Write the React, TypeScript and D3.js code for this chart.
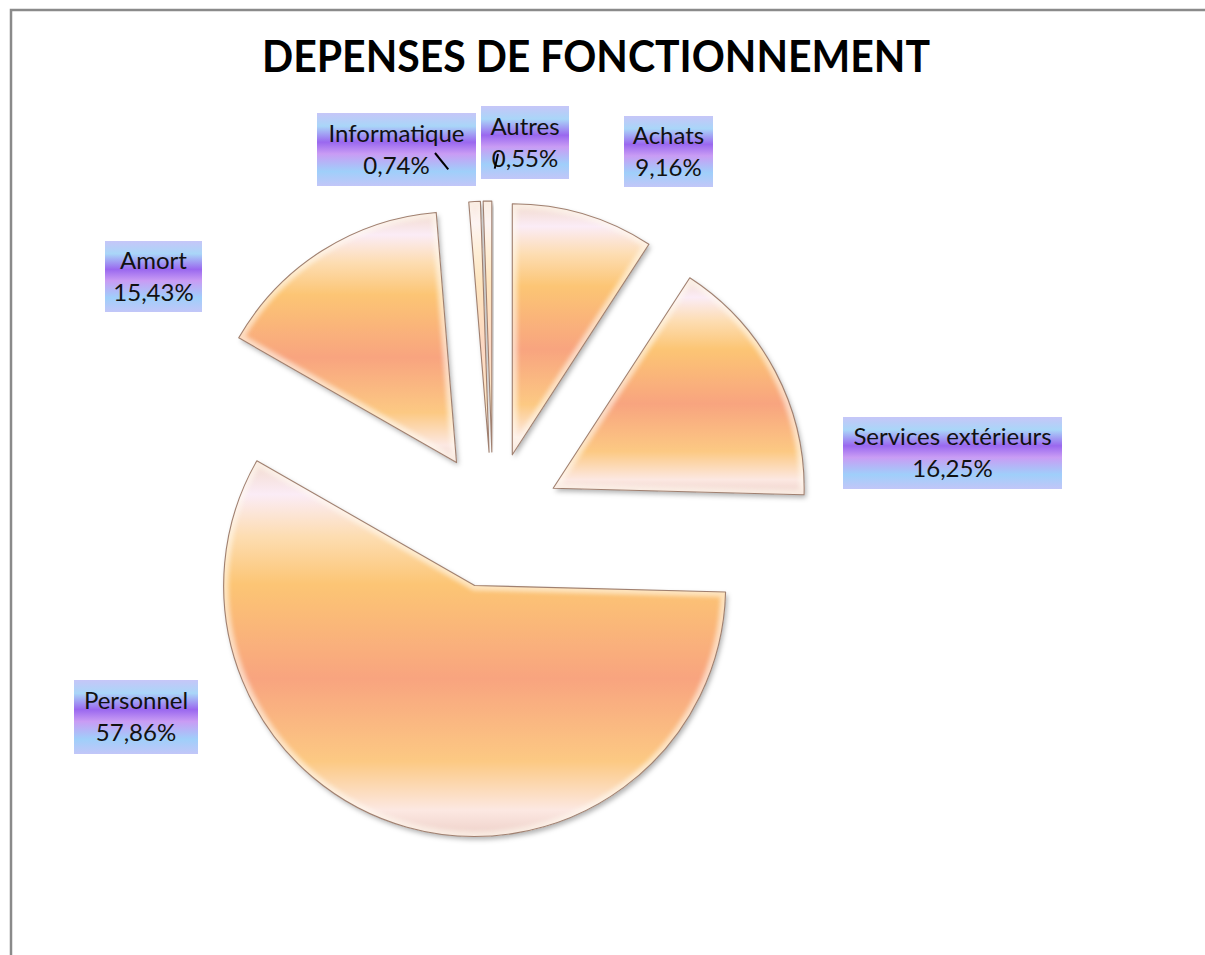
import React from 'react';
import * as d3 from 'd3';

const categories = ['Achats', 'Services extérieurs', 'Personnel', 'Amort', 'Informatique', 'Autres'];
const values = [9.16, 16.25, 57.86, 15.43, 0.74, 0.55];
const percentLabels = ['9,16%', '16,25%', '57,86%', '15,43%', '0,74%', '0,55%'];
const title = 'DEPENSES DE FONCTIONNEMENT';

const WIDTH = 1205;
const HEIGHT = 955;
const center = { x: 493, y: 520 };
const radius = 251;
const explode = 68;

// label boxes (center, size) in the same order as categories
const labelBoxes = [
  { cx: 668.5, cy: 151.5, w: 89, h: 71 },
  { cx: 952.5, cy: 453, w: 219, h: 72 },
  { cx: 136, cy: 717, w: 124, h: 74 },
  { cx: 153.5, cy: 276.5, w: 97, h: 71 },
  { cx: 396.5, cy: 149.5, w: 159, h: 73 },
  { cx: 525, cy: 142.5, w: 88, h: 73 },
];
// leader lines only for the tiny slices: start point, length
const leaders: ({ x: number; y: number; len: number } | null)[] = [
  null, null, null, null,
  { x: 435, y: 153, len: 21 },
  { x: 498, y: 154, len: 15 },
];

const App: React.FC = () => {
  const pie = d3.pie<number>().sort(null).value((d) => d).startAngle(0).endAngle(2 * Math.PI);
  const arcs = pie(values);
  const arc = d3.arc<d3.PieArcDatum<number>>().innerRadius(0).outerRadius(radius);

  const offsetOf = (a: d3.PieArcDatum<number>) => {
    const mid = (a.startAngle + a.endAngle) / 2;
    return { dx: explode * Math.sin(mid), dy: -explode * Math.cos(mid), mid };
  };

  return (
    <div style={{ position: 'absolute', left: 0, top: 0 }}>
      <svg width={WIDTH} height={HEIGHT} style={{ display: 'block', background: '#fff' }}>
        <defs>
          <linearGradient id="sliceFill" x1="0" y1="0" x2="0" y2="1">
            <stop offset="0" stopColor="#f2dacd" />
            <stop offset="0.09" stopColor="#fbecf6" />
            <stop offset="0.2" stopColor="#fdddb2" />
            <stop offset="0.33" stopColor="#fcc574" />
            <stop offset="0.58" stopColor="#f8a47f" />
            <stop offset="0.8" stopColor="#fcc983" />
            <stop offset="0.93" stopColor="#fce8e2" />
            <stop offset="1" stopColor="#eed0c8" />
          </linearGradient>
          <linearGradient id="labelFill" x1="0" y1="0" x2="0" y2="1">
            <stop offset="0" stopColor="#c6c6f8" />
            <stop offset="0.18" stopColor="#a9d6f8" />
            <stop offset="0.4" stopColor="#9a68ef" />
            <stop offset="0.56" stopColor="#c99cf4" />
            <stop offset="0.8" stopColor="#9fcffa" />
            <stop offset="1" stopColor="#c2c6f8" />
          </linearGradient>
          <filter id="shadow" x="-10%" y="-10%" width="130%" height="130%">
            <feDropShadow dx="2" dy="3" stdDeviation="2.5" floodColor="#000" floodOpacity="0.3" />
          </filter>
          <filter id="soft">
            <feGaussianBlur stdDeviation="2" />
          </filter>
          {arcs.map((a, i) => (
            <clipPath id={`clip-${i}`} key={i}>
              <path d={arc(a) || ''} />
            </clipPath>
          ))}
        </defs>

        <rect x={11} y={10} width={1400} height={1100} fill="none" stroke="#8a8a8a" strokeWidth={2.5} />

        <text
          x={596}
          y={72}
          textAnchor="middle"
          fontFamily="Lato, 'Open Sans', sans-serif"
          fontWeight={700}
          fontSize={43}
          textLength={668}
          lengthAdjust="spacingAndGlyphs"
          fill="#000"
        >
          {title}
        </text>

        <g transform={`translate(${center.x},${center.y})`}>
          {arcs.map((a, i) => {
            const { dx, dy } = offsetOf(a);
            const d = arc(a) || '';
            return (
              <g key={categories[i]} transform={`translate(${dx},${dy})`}>
                <path d={d} fill="url(#sliceFill)" filter="url(#shadow)" />
                <g clipPath={`url(#clip-${i})`}>
                  <path d={d} fill="none" stroke="#fffaf0" strokeWidth={10} opacity={0.6} filter="url(#soft)" />
                </g>
                <path d={d} fill="none" stroke="#a08070" strokeWidth={1.1} strokeLinejoin="round" />
              </g>
            );
          })}
        </g>

        {labelBoxes.map((b, i) => (
          <g key={`lbl-${i}`}>
            <rect x={b.cx - b.w / 2} y={b.cy - b.h / 2} width={b.w} height={b.h} fill="url(#labelFill)" />
            <text
              x={b.cx}
              textAnchor="middle"
              fontFamily="Lato, 'Open Sans', sans-serif"
              fontSize={24}
              fill="#111"
            >
              <tspan x={b.cx} y={b.cy - 8}>{categories[i]}</tspan>
              <tspan x={b.cx} y={b.cy + 24}>{percentLabels[i]}</tspan>
            </text>
          </g>
        ))}

        {arcs.map((a, i) => {
          const l = leaders[i];
          if (!l) return null;
          const { dx, dy, mid } = offsetOf(a);
          const tx = center.x + dx + radius * Math.sin(mid);
          const ty = center.y + dy - radius * Math.cos(mid);
          const vx = tx - l.x;
          const vy = ty - l.y;
          const n = Math.hypot(vx, vy);
          return (
            <line
              key={`lead-${i}`}
              x1={l.x}
              y1={l.y}
              x2={l.x + (vx / n) * l.len}
              y2={l.y + (vy / n) * l.len}
              stroke="#000"
              strokeWidth={2}
            />
          );
        })}
      </svg>
    </div>
  );
};

export default App;
